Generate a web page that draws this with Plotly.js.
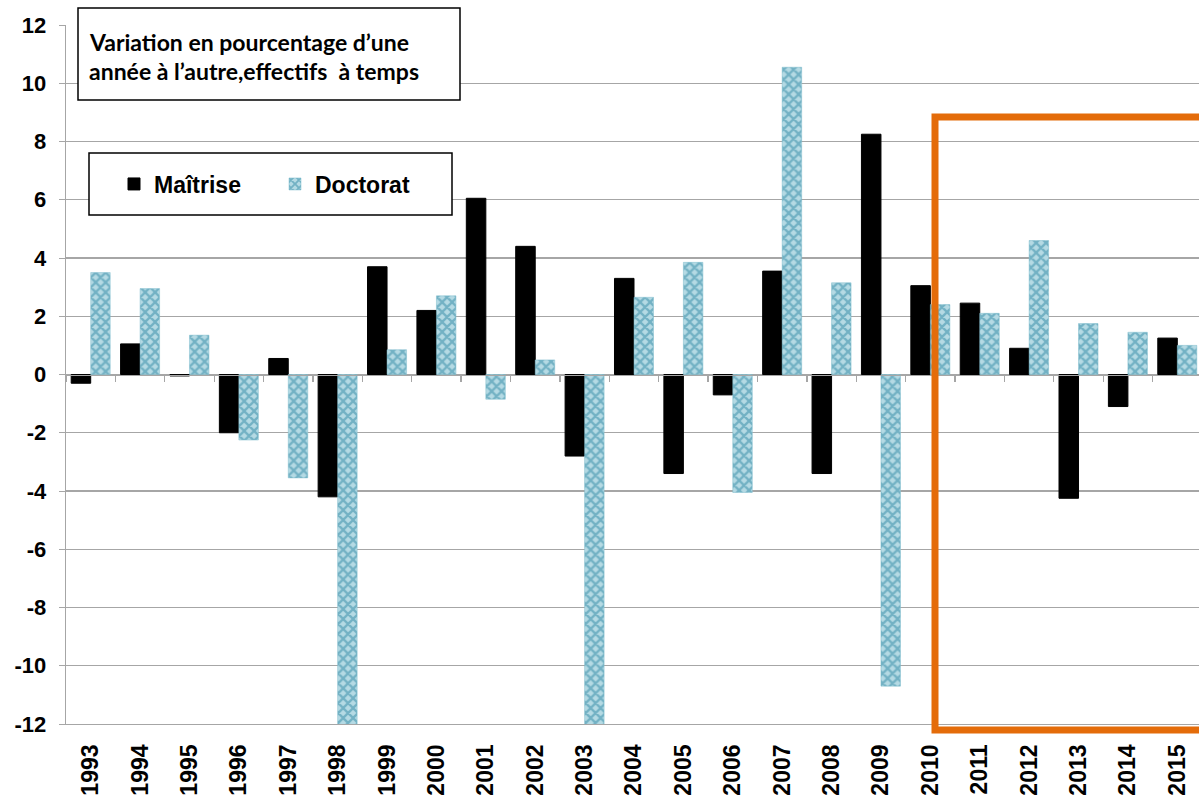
<!DOCTYPE html>
<html>
<head>
<meta charset="utf-8">
<script src="https://cdn.plot.ly/plotly-3.0.1.min.js"></script>
<style>
html,body{margin:0;padding:0;background:#fff;overflow:hidden;width:1199px;height:797px;}
#chart{width:1210px;height:797px;}
</style>
</head>
<body>
<div id="chart"></div>
<script>
const years = ['1993','1994','1995','1996','1997','1998','1999','2000','2001','2002','2003','2004','2005','2006','2007','2008','2009','2010','2011','2012','2013','2014','2015'];
const maitrise = [-0.3,1.05,-0.05,-2.0,0.55,-4.2,3.7,2.2,6.05,4.4,-2.8,3.3,-3.4,-0.7,3.55,-3.4,8.25,3.05,2.45,0.9,-4.25,-1.1,1.25];
const doctorat = [3.5,2.95,1.35,-2.25,-3.55,-12.5,0.85,2.7,-0.85,0.5,-12.5,2.65,3.85,-4.05,10.55,3.15,-10.7,2.4,2.1,4.6,1.75,1.45,1.0];
const yTicks = [-12,-10,-8,-6,-4,-2,0,2,4,6,8,10,12];
const seriesNames = ['Maîtrise','Doctorat'];
const titleLines = ['Variation en pourcentage d\u2019une','année à l\u2019autre,effectifs  à temps'];

const W = 1210, H = 797, L = 66, R = 8, T = 25, B = 73;
const pw = W - L - R, ph = H - T - B;
const px = v => (v - L) / pw;
const py = v => (H - B - v) / ph;

const traces = [
  {type:'bar', name:seriesNames[0], x:years, y:maitrise,
   marker:{color:'#000000', line:{color:'#000000', width:1}}, hoverinfo:'x+y'},
  {type:'bar', name:seriesNames[1], x:years, y:doctorat,
   marker:{color:'#b5dae4', line:{color:'#7fbccc', width:0.5},
     pattern:{shape:'x', fgcolor:'#2f88a3', bgcolor:'#b5dae4', size:7, solidity:0.55, fillmode:'overlay'}},
   hoverinfo:'x+y'},
  {type:'scatter', mode:'markers', x:years, y:years.map(()=>null), xaxis:'x2', yaxis:'y',
   showlegend:false, hoverinfo:'skip'}
];

const gray = '#a6a6a6';
const layout = {
  width: W, height: H,
  margin:{l:L, r:R, t:T, b:B, pad:0},
  paper_bgcolor:'#ffffff', plot_bgcolor:'#ffffff',
  barmode:'group', bargap:0.21, bargroupgap:0,
  showlegend:true,
  legend:{orientation:'h', x:px(114), y:py(184), xanchor:'left', yanchor:'middle',
    bgcolor:'rgba(0,0,0,0)', borderwidth:0, entrywidth:116, entrywidthmode:'pixels',
    font:{family:'Liberation Sans, Arial, sans-serif', size:23, color:'#000', weight:'bold'}},
  xaxis:{type:'category', range:[-0.5,22.5], showgrid:false, zeroline:false,
    showline:true, linecolor:gray, linewidth:1.3, ticks:'', tickangle:-90,
    ticklabelstandoff:10,
    tickfont:{family:'Liberation Sans, Arial, sans-serif', size:23, color:'#000', weight:'bold'}},
  xaxis2:{type:'category', matches:'x', overlaying:'x', anchor:'free', position:0.5, side:'bottom',
    showline:true, linecolor:gray, linewidth:1.5, ticks:'outside', ticklen:6, tickcolor:gray, tickwidth:1.3,
    tickson:'boundaries', showticklabels:false, showgrid:false, zeroline:false},
  yaxis:{range:[-12,12], tickvals:yTicks, ticktext:yTicks.map(String), showgrid:true, gridcolor:gray, gridwidth:1.3,
    zeroline:false, showline:true, linecolor:gray, linewidth:1.3, ticks:'outside', ticklen:6, tickcolor:gray,
    ticklabelstandoff:8,
    tickfont:{family:'Liberation Sans, Arial, sans-serif', size:22, color:'#000', weight:'bold'}},
  shapes:[
    {type:'rect', xref:'paper', yref:'paper', x0:px(78), x1:px(460), y0:py(100), y1:py(8),
     line:{color:'#000', width:1.5}, fillcolor:'#ffffff', layer:'above'},
    {type:'rect', xref:'paper', yref:'paper', x0:px(89), x1:px(452), y0:py(215), y1:py(153),
     line:{color:'#000', width:1.5}, fillcolor:'#ffffff', layer:'above'},
    {type:'rect', xref:'paper', yref:'paper', x0:px(935), x1:px(1240), y0:py(730), y1:py(117),
     line:{color:'#e46c0a', width:7}, fillcolor:'rgba(0,0,0,0)', layer:'above'}
  ],
  annotations:[
    {xref:'paper', yref:'paper', x:px(87), y:py(42), xanchor:'left', yanchor:'middle', showarrow:false,
     text:titleLines[0], font:{family:'Lato, Calibri, sans-serif', size:23, color:'#000', weight:'bold'}},
    {xref:'paper', yref:'paper', x:px(87), y:py(71), xanchor:'left', yanchor:'middle', showarrow:false,
     text:titleLines[1], font:{family:'Lato, Calibri, sans-serif', size:23, color:'#000', weight:'bold'}}
  ]
};

Plotly.newPlot('chart', traces, layout, {displayModeBar:false, staticPlot:true});
</script>
</body>
</html>
